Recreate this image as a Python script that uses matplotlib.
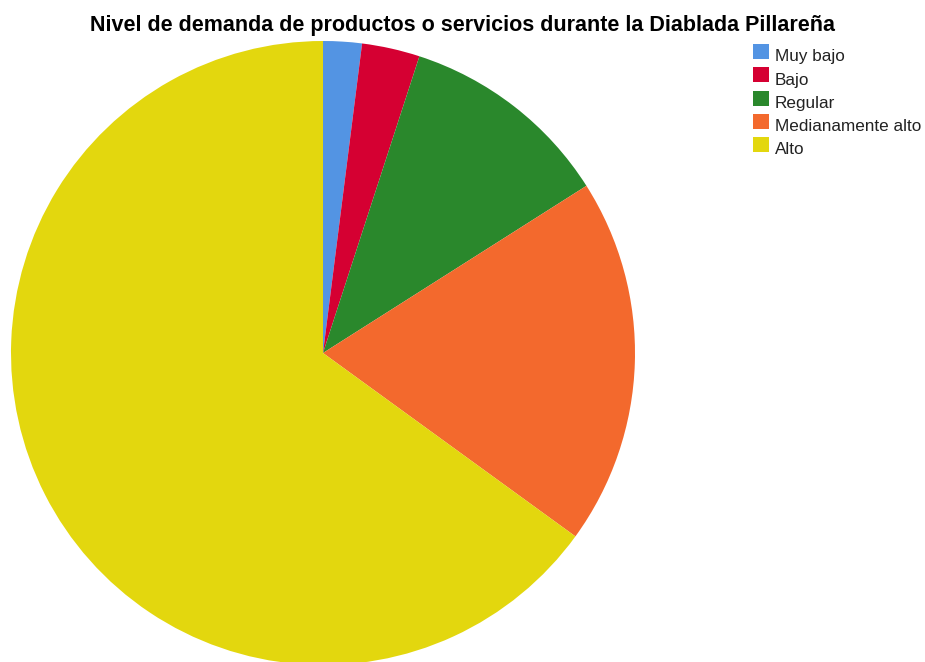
import matplotlib.pyplot as plt
from matplotlib.patches import Rectangle

# Nivel de demanda (porcentajes)
categories = ['Muy bajo', 'Bajo', 'Regular', 'Medianamente alto', 'Alto']
values = [2, 3, 11, 19, 65]
colors = ['#5394E3', '#D50032', '#2A882C', '#F3692D', '#E3D70E']

plt.rcParams['font.family'] = ['Liberation Sans', 'DejaVu Sans']

W, H = 925, 662
fig = plt.figure(figsize=(W / 100, H / 100), dpi=100)

# pie centre (323, 353) px, radius 312 px
cx, cy, r = 323, 353, 312
ax = fig.add_axes([(cx - r) / W, (H - cy - r) / H, 2 * r / W, 2 * r / H])
wedges, _ = ax.pie(values, colors=colors, startangle=90, counterclock=False,
                   wedgeprops=dict(linewidth=0))
for w in wedges:
    w.set_clip_on(False)
ax.set_xlim(-1, 1)
ax.set_ylim(-1, 1)
ax.set_aspect('auto')
ax.axis('off')

fig.text(462 / W, 1 - 31 / H, 'Nivel de demanda de productos o servicios durante la Diablada Pillareña',
         ha='center', va='baseline', fontsize=15.5, fontweight='bold', color='#000000')

# legend drawn by hand, rows 23.25 px apart
for i, (lab, c) in enumerate(zip(categories, colors)):
    top = 44 + i * 23.25
    fig.patches.append(Rectangle((753 / W, 1 - (top + 15) / H), 16 / W, 15 / H,
                                 facecolor=c, edgecolor='none',
                                 transform=fig.transFigure, figure=fig))
    fig.text(775 / W, 1 - (top + 17.5) / H, lab, ha='left', va='baseline',
             fontsize=12.3, color='#222222')

fig.savefig('out.png', dpi=100)
